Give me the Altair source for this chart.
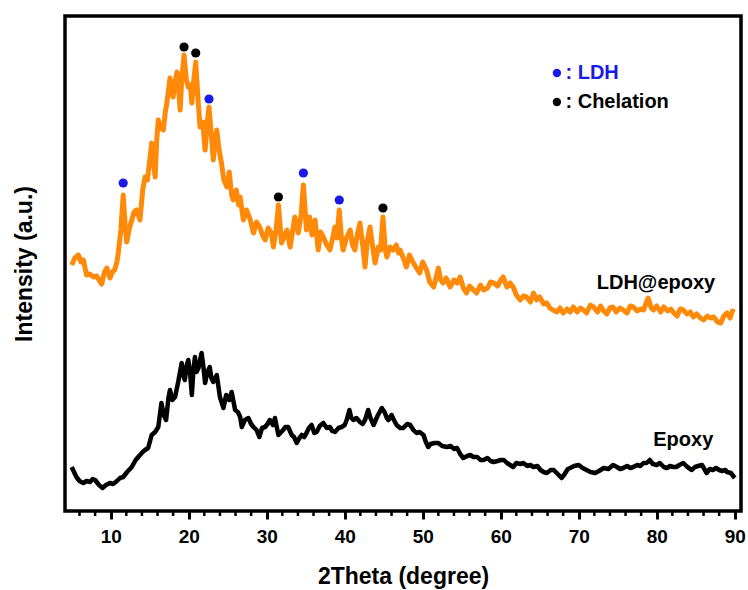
import altair as alt
import pandas as pd

# ---------------- data ----------------
two_theta_ldh = [
    5.0, 5.4, 5.85, 6.2, 6.5, 6.9, 7.3, 7.8, 8.2, 8.5, 8.85, 9.2, 9.5, 9.9, 10.2, 10.5, 10.8, 10.97,
    11.3, 11.6, 11.85, 12.05, 12.4, 12.7, 13.0, 13.3, 13.75, 14.1, 14.4, 14.7, 15.0, 15.25, 15.5, 15.7,
    15.9, 16.1, 16.4, 16.75, 17.0, 17.2, 17.6, 17.8, 18.0, 18.3, 18.5, 18.7, 18.9, 19.1, 19.4, 19.7,
    19.95, 20.2, 20.4, 20.65, 20.9, 21.2, 21.45, 21.8, 22.1, 22.35, 22.6, 22.9, 23.15, 23.4, 23.6, 23.9,
    24.2, 24.5, 24.9, 25.2, 25.5, 25.7, 26.1, 26.4, 26.6, 27.0, 27.4, 27.9, 28.3, 28.7, 29.1, 29.5,
    29.8, 30.2, 30.6, 30.85, 31.2, 31.5, 31.9, 32.3, 32.6, 33.0, 33.3, 33.6, 34.05, 34.4, 34.7, 35.1,
    35.5, 35.8, 36.2, 36.6, 36.9, 37.25, 37.7, 38.1, 38.4, 38.75, 39.0, 39.3, 39.6, 39.8, 40.2, 40.7,
    41.0, 41.3, 41.6, 41.95, 42.3, 42.6, 42.9, 43.25, 43.6, 43.9, 44.3, 44.6, 44.9, 45.2, 45.4, 45.8,
    46.2, 46.6, 46.9, 47.1, 47.5, 47.9, 48.3, 48.8, 49.2, 49.6, 50.0, 50.5, 50.9, 51.4, 51.7, 52.0,
    52.3, 52.6, 53.0, 53.5, 54.0, 54.4, 54.8, 55.2, 55.6, 56.0, 56.5, 56.9, 57.4, 57.8, 58.3, 58.7,
    59.1, 59.6, 60.0, 60.3, 60.8, 61.2, 61.6, 62.0, 62.5, 62.9, 63.3, 63.8, 64.2, 64.6, 65.0, 65.5,
    65.9, 66.3, 66.7, 67.2, 67.6, 68.0, 68.5, 68.9, 69.3, 69.8, 70.2, 70.6, 71.0, 71.5, 71.9, 72.4,
    72.8, 73.1, 73.6, 74.0, 74.4, 74.8, 75.3, 75.7, 76.2, 76.6, 77.0, 77.5, 77.9, 78.3, 78.9, 79.3,
    79.6, 80.0, 80.5, 80.9, 81.4, 81.8, 82.2, 82.6, 83.0, 83.4, 83.9, 84.3, 84.7, 85.1, 85.6, 86.0,
    86.5, 86.9, 87.3, 87.8, 88.2, 88.6, 89.0, 89.4, 89.7, 90.0,
]
intensity_ldh = [
    246, 253, 256, 249, 251, 236, 237, 234, 235, 231, 227, 239, 243, 233, 239, 241, 249, 258,
    281, 316, 286, 269, 283, 291, 299, 301, 291, 321, 334, 331, 351, 368, 346, 334,
    371, 391, 383, 381, 399, 408, 433, 421, 414, 431, 439, 423, 401, 431, 456, 431,
    424, 426, 408, 431, 449, 411, 384, 389, 361, 386, 404, 376, 351, 371, 381, 361,
    348, 331, 324, 339, 316, 311, 321, 306, 314, 291, 301, 291, 278, 289, 284, 275,
    271, 283, 278, 264, 281, 306, 268, 276, 281, 264, 279, 294, 278, 296, 326, 281,
    294, 276, 291, 261, 279, 274, 266, 261, 271, 284, 273, 301, 271, 261, 273, 281,
    266, 261, 276, 288, 266, 244, 271, 284, 263, 248, 264, 261, 294, 261, 254, 264,
    261, 266, 258, 261, 253, 244, 256, 248, 243, 238, 249, 241, 229, 224, 233, 243,
    231, 228, 233, 224, 231, 228, 234, 223, 218, 225, 221, 218, 226, 221, 223, 229,
    228, 225, 231, 234, 224, 228, 224, 216, 211, 215, 214, 209, 218, 211, 214, 207,
    208, 203, 201, 199, 203, 198, 202, 199, 204, 199, 203, 201, 198, 206, 204, 199,
    205, 201, 197, 203, 204, 199, 203, 201, 198, 205, 204, 200, 202, 201, 213, 203,
    201, 205, 199, 204, 200, 202, 198, 195, 202, 201, 197, 199, 194, 197, 193, 191,
    195, 193, 194, 189, 188, 195, 198, 193, 200, 199,
]

two_theta_epoxy = [
    5.0, 5.3, 5.6, 6.0, 6.5, 6.9, 7.35, 7.7, 8.0, 8.5, 8.95, 9.4, 9.9, 10.3, 10.8, 11.2, 11.6, 12.1,
    12.7, 13.2, 13.75, 14.1, 14.4, 14.8, 15.25, 15.7, 16.1, 16.5, 16.8, 17.1, 17.4, 17.6, 17.9, 18.25,
    18.65, 19.1, 19.3, 19.5, 19.75, 19.95, 20.2, 20.4, 20.6, 20.8, 21.0, 21.25, 21.65, 21.9, 22.1, 22.4,
    22.7, 22.9, 23.15, 23.6, 24.0, 24.45, 24.8, 25.2, 25.5, 25.95, 26.3, 26.6, 26.8, 27.2, 27.65, 28.0,
    28.3, 28.7, 29.05, 29.4, 29.8, 30.1, 30.4, 30.8, 31.05, 31.5, 32.1, 32.4, 32.75, 33.2, 33.5, 33.85,
    34.2, 34.5, 34.8, 35.1, 35.4, 35.75, 36.1, 36.4, 36.8, 37.25, 37.7, 38.1, 38.4, 38.75, 39.2, 39.6,
    40.0, 40.25, 40.6, 40.85, 41.1, 41.5, 41.95, 42.3, 42.6, 43.0, 43.3, 43.7, 44.2, 44.75, 45.1, 45.4,
    45.6, 46.0, 46.3, 46.65, 47.1, 47.5, 48.0, 48.4, 48.8, 49.2, 49.6, 50.1, 50.4, 50.7, 51.0, 51.5,
    52.0, 52.5, 53.1, 53.6, 54.0, 54.4, 54.8, 55.2, 55.7, 56.1, 56.5, 57.0, 57.4, 57.8, 58.3, 58.7,
    59.1, 59.6, 60.0, 60.4, 60.8, 61.2, 61.6, 62.0, 62.5, 62.9, 63.4, 63.8, 64.2, 64.7, 65.1, 65.5,
    65.9, 66.4, 66.8, 67.3, 67.8, 68.2, 68.6, 68.9, 69.4, 70.0, 70.5, 71.0, 71.5, 72.1, 72.6, 73.2,
    73.8, 74.4, 74.9, 75.3, 75.7, 76.2, 76.6, 77.0, 77.5, 77.9, 78.3, 78.7, 79.1, 79.5, 80.0, 80.4,
    80.9, 81.3, 81.7, 82.1, 82.5, 82.9, 83.4, 83.8, 84.1, 84.5, 84.9, 85.3, 85.8, 86.1, 86.4, 86.8,
    87.2, 87.6, 88.0, 88.4, 88.8, 89.0, 89.5, 90.0,
]
intensity_epoxy = [
    44, 39, 34, 30, 28, 30, 29, 32, 31, 26, 23, 26, 28, 27, 30, 33, 34, 39,
    44, 51, 56, 59, 61, 63, 76, 79, 84, 108, 96, 91, 113, 121, 111, 114,
    129, 148, 136, 131, 146, 151, 136, 116, 141, 154, 139, 143, 158, 143, 128, 139,
    144, 133, 129, 136, 114, 103, 116, 111, 119, 101, 99, 94, 84, 91, 93, 87,
    84, 81, 74, 83, 84, 87, 91, 86, 93, 76, 81, 84, 84, 76, 74, 68,
    73, 76, 74, 78, 83, 86, 78, 79, 85, 88, 83, 84, 80, 79, 83, 84,
    86, 91, 101, 93, 91, 93, 89, 87, 91, 101, 93, 86, 95, 103, 99, 93,
    91, 96, 91, 86, 83, 83, 87, 86, 81, 78, 79, 76, 69, 64, 67, 68,
    68, 65, 64, 65, 62, 63, 57, 53, 55, 56, 54, 54, 51, 51, 53, 50,
    49, 50, 51, 51, 48, 46, 44, 48, 47, 48, 45, 46, 44, 45, 41, 39,
    38, 41, 41, 37, 33, 37, 42, 43, 45, 46, 43, 41, 39, 38, 40, 43,
    42, 46, 44, 42, 43, 45, 43, 44, 46, 45, 48, 48, 51, 47, 46, 48,
    44, 43, 45, 44, 44, 46, 48, 45, 43, 41, 44, 45, 46, 42, 38, 42,
    41, 43, 41, 40, 41, 39, 38, 33,
]

ldh_peak_theta = [11.6, 22.6, 34.7, 39.3]
ldh_peak_intensity = [328, 412, 338, 311]
chelation_peak_theta = [19.4, 20.9, 31.5, 44.9]
chelation_peak_intensity = [464, 458, 314, 303]

major_ticks = [10, 20, 30, 40, 50, 60, 70, 80, 90]
minor_ticks = [6, 8, 12, 14, 16, 18, 22, 24, 26, 28, 32, 34, 36, 38, 42, 44, 46, 48,
               52, 54, 56, 58, 62, 64, 66, 68, 72, 74, 76, 78, 82, 84, 86, 88]

# ---------------- styling ----------------
FONT = "Liberation Sans, Arial, Helvetica, sans-serif"
ORANGE = "#ff8a0a"
BLUE = "#1a1ae6"
PLOT_H = 495

df_ldh = pd.DataFrame({"two_theta": two_theta_ldh, "intensity": intensity_ldh})
df_epoxy = pd.DataFrame({"two_theta": two_theta_epoxy, "intensity": intensity_epoxy})
df_ldh_pk = pd.DataFrame({"two_theta": ldh_peak_theta, "intensity": ldh_peak_intensity})
df_chel_pk = pd.DataFrame({"two_theta": chelation_peak_theta, "intensity": chelation_peak_intensity})
df_minor = pd.DataFrame({"two_theta": minor_ticks})

x_axis = alt.Axis(
    title="2Theta (degree)",
    values=major_ticks,
    domain=False,
    grid=False,
    ticks=True,
    tickColor="black",
    tickSize=8,
    tickWidth=3,
    labelFont=FONT,
    labelFontSize=19,
    labelFontWeight="bold",
    labelColor="black",
    labelPadding=8,
    labelFlush=False,
    labelOverlap=False,
    titleFont=FONT,
    titleFontSize=23,
    titleFontWeight="bold",
    titleColor="black",
    titlePadding=19,
)
y_axis = alt.Axis(
    title="Intensity (a.u.)",
    labels=False,
    ticks=False,
    domain=False,
    grid=False,
    titleFont=FONT,
    titleFontSize=23,
    titleFontWeight="bold",
    titleColor="black",
    titlePadding=29,
)

x_enc = alt.X("two_theta:Q", scale=alt.Scale(domain=[4.14, 90.8], nice=False, zero=False), axis=x_axis)
y_enc = alt.Y("intensity:Q", scale=alt.Scale(domain=[0, 495], nice=False, zero=False), axis=y_axis)

minor = alt.Chart(df_minor).mark_rule(color="black", strokeWidth=2.5).encode(
    x=x_enc, y=alt.value(PLOT_H), y2=alt.value(PLOT_H + 5)
)
line_ldh = alt.Chart(df_ldh).mark_line(color=ORANGE, strokeWidth=5, strokeJoin="round").encode(x=x_enc, y=y_enc)
line_epoxy = alt.Chart(df_epoxy).mark_line(color="black", strokeWidth=4.5, strokeJoin="round").encode(x=x_enc, y=y_enc)
pts_ldh = alt.Chart(df_ldh_pk).mark_circle(color=BLUE, size=85, opacity=1).encode(x=x_enc, y=y_enc)
pts_chel = alt.Chart(df_chel_pk).mark_circle(color="black", size=85, opacity=1).encode(x=x_enc, y=y_enc)

def dot(xv, yv, color):
    return alt.Chart().mark_circle(color=color, size=70, opacity=1).encode(x=alt.datum(xv), y=alt.datum(yv))

def label(xv, yv, text, color, align="center"):
    return alt.Chart().mark_text(
        text=text, color=color, font=FONT, fontSize=20, fontWeight="bold", align=align, baseline="middle"
    ).encode(x=alt.datum(xv), y=alt.datum(yv))

chart = alt.layer(
    line_ldh,
    line_epoxy,
    minor,
    pts_ldh,
    pts_chel,
    dot(67.2, 438, BLUE),
    dot(67.2, 409, "black"),
    label(68.3, 438, ": LDH", BLUE, "left"),
    label(68.3, 409, ": Chelation", "black", "left"),
    label(79.9, 228, "LDH@epoxy", "black"),
    label(83.4, 71, "Epoxy", "black"),
).properties(
    width=676,
    height=PLOT_H,
    autosize=alt.AutoSizeParams(type="none"),
    padding={"left": 65, "top": 16, "right": 7, "bottom": 79},
    background="white",
).configure_view(
    stroke="black",
    strokeWidth=3.5,
)

chart.save("out.html", embed_options={"renderer": "svg", "actions": False})
